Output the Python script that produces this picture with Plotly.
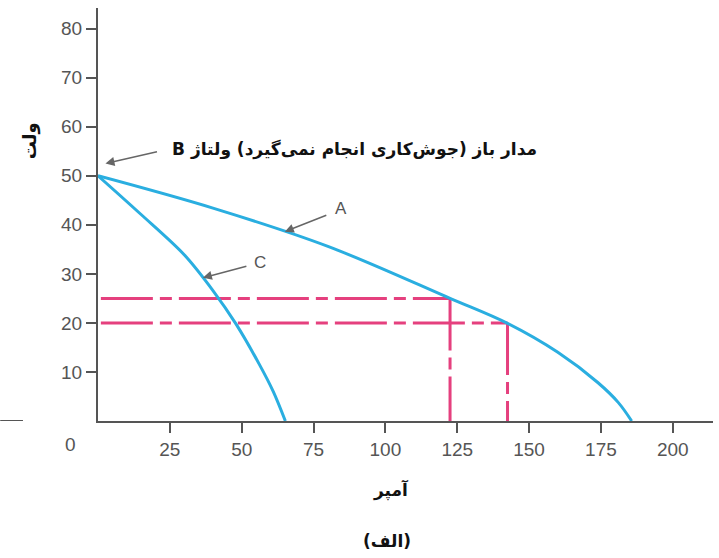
import plotly.graph_objects as go

# Curve A (current vs voltage)
a_amps = [0, 40, 80, 122.5, 142.5, 160, 174, 181, 185.7]
a_volts = [50, 43.4, 35.6, 25, 19.9, 14, 7.8, 3.8, 0]
# Curve C
c_amps = [0, 15, 30, 40, 48, 56, 61, 65.2]
c_volts = [50, 42.1, 33.9, 26.6, 19.8, 11.7, 6, 0]
# Reference (dash-dot) lines
ref_volts = [25, 20]
ref_amps = [122.5, 142.5]
ref_start = 1

x_ticks = [25, 50, 75, 100, 125, 150, 175, 200]
y_ticks = [10, 20, 30, 40, 50, 60, 70, 80]

BLUE = "#2aaee0"
PINK = "#e5407e"
GRAY = "#555555"
ARROW = "#666666"
AR_FONT = "DejaVu Sans"
TICK_FONT = "Liberation Sans"
DASH = "52px,7px,12px,7px"

fig = go.Figure()

for v, a in zip(ref_volts, ref_amps):
    fig.add_trace(go.Scatter(x=[ref_start, a], y=[v, v], mode="lines",
                             line=dict(color=PINK, width=3, dash=DASH),
                             hoverinfo="skip", showlegend=False))
    fig.add_trace(go.Scatter(x=[a, a], y=[v, 0], mode="lines",
                             line=dict(color=PINK, width=3, dash=DASH),
                             hoverinfo="skip", showlegend=False))

fig.add_trace(go.Scatter(x=a_amps, y=a_volts, mode="lines",
                         line=dict(color=BLUE, width=3, shape="spline", smoothing=1.0),
                         showlegend=False))
fig.add_trace(go.Scatter(x=c_amps, y=c_volts, mode="lines",
                         line=dict(color=BLUE, width=3, shape="spline", smoothing=0.9),
                         showlegend=False))

# arrows
fig.add_annotation(x=65, y=38.6, ax=43, ay=-17, text="", showarrow=True,
                   arrowhead=2, arrowsize=1.2, arrowwidth=1.5, arrowcolor=ARROW)
fig.add_annotation(x=84.4, y=43.4, text="A", showarrow=False,
                   font=dict(family=TICK_FONT, size=17, color=GRAY))
fig.add_annotation(x=36.5, y=29.2, ax=45, ay=-12, text="", showarrow=True,
                   arrowhead=2, arrowsize=1.2, arrowwidth=1.5, arrowcolor=ARROW)
fig.add_annotation(x=56.2, y=32.4, text="C", showarrow=False,
                   font=dict(family=TICK_FONT, size=17, color=GRAY))
fig.add_annotation(x=2.6, y=52.5, ax=53, ay=-12, text="", showarrow=True,
                   arrowhead=2, arrowsize=1.2, arrowwidth=1.5, arrowcolor=ARROW)
fig.add_annotation(x=25.0, y=55.4, xanchor="left", yanchor="middle",
                   text="<b>\u202bمدار باز (جوش‌کاری انجام نمی‌گیرد) ولتاژ B\u202c</b>",
                   showarrow=False, font=dict(family=AR_FONT, size=17, color="#111111"))

# axis labels
fig.add_annotation(xref="paper", yref="paper", x=-0.11, y=0.678, xanchor="center", yanchor="middle",
                   text="<b>ولت</b>", textangle=-90, showarrow=False,
                   font=dict(family=AR_FONT, size=18, color="#111111"))
fig.add_annotation(xref="paper", yref="paper", x=0.476, y=-0.167, xanchor="center", yanchor="middle",
                   text="<b>آمپر</b>", showarrow=False,
                   font=dict(family=AR_FONT, size=17, color="#111111"))
fig.add_annotation(xref="paper", yref="paper", x=0.47, y=-0.291, xanchor="center", yanchor="middle",
                   text="<b>(الف)</b>", showarrow=False,
                   font=dict(family=AR_FONT, size=17, color="#111111"))
fig.add_annotation(xref="paper", yref="paper", x=-0.0455, y=-0.058, xanchor="center", yanchor="middle",
                   text="0", showarrow=False,
                   font=dict(family=TICK_FONT, size=19, color=GRAY))

fig.add_shape(type="line", xref="paper", yref="y", x0=-0.159, x1=-0.122, y0=0, y1=0,
              line=dict(color=GRAY, width=2))

fig.update_layout(
    width=719, height=558,
    margin=dict(l=98, r=6, t=8, b=137),
    paper_bgcolor="white", plot_bgcolor="white",
    showlegend=False,
)
fig.update_xaxes(range=[0, 214], tickvals=x_ticks, showgrid=False, zeroline=False,
                 showline=True, linecolor=GRAY, linewidth=2,
                 ticks="outside", ticklen=10, tickwidth=2, tickcolor=GRAY,
                 tickfont=dict(family=TICK_FONT, size=19, color=GRAY))
fig.update_yaxes(range=[0, 84.2], tickvals=y_ticks, showgrid=False, zeroline=False,
                 showline=True, linecolor=GRAY, linewidth=2,
                 ticks="outside", ticklen=10, tickwidth=2, tickcolor=GRAY,
                 tickfont=dict(family=TICK_FONT, size=19, color=GRAY))

fig.write_html("out.html", config={"displayModeBar": False},
               post_script="document.body.style.margin='0';document.body.style.overflow='hidden';")
